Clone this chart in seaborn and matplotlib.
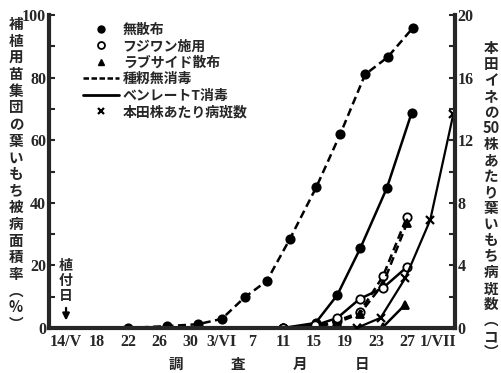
import seaborn as sns
import pandas as pd
import matplotlib.pyplot as plt
from matplotlib.lines import Line2D

# x = days counted from 14/V (planting day)
tick_days = [0, 4, 8, 12, 16, 20, 24, 28, 32, 36, 40, 44, 48]
tick_labels = ["14/V", "18", "22", "26", "30", "3/VI", "7", "11", "15",
               "19", "23", "27", "1/VII"]

# nursery seedlings, diseased area rate (%)
days_a = [8, 13, 17, 20.1, 23.1, 25.9, 28.9, 32.3, 35.4, 38.6, 41.5, 44.8]
nospray_untreated = [0, 0.6, 1.2, 2.9, 9.9, 15.0, 28.5, 45.0, 62.0, 81.0, 86.5, 96.0]

days_b = [28, 32.2, 35.0, 38.0, 41.4, 44.6]
nospray_benlate = [0, 1.6, 10.5, 25.6, 44.7, 68.7]

days_c = [28, 32.1, 35.0, 37.9, 40.9, 44.0]
fujiwan_untreated = [0, 0.3, 2.3, 5.0, 16.5, 35.5]
fujiwan_benlate = [0, 0.8, 3.2, 9.3, 12.8, 19.5]
rabcide_untreated = [0, 0.2, 1.8, 4.5, 14.0, 33.5]

days_d = [35.0, 37.9, 40.9, 43.7]
rabcide_benlate = [0, 0, 0.3, 7.3]

# field plants, lesions per 50 hills
days_e = [37.5, 40.6, 43.8, 47.0, 50.0]
lesions = [0, 0.65, 3.2, 6.9, 13.7]

sns.set_style("white")
plt.rcParams["font.family"] = ["Noto Sans CJK JP", "DejaVu Sans"]
plt.rcParams["font.weight"] = "bold"

fig = plt.figure(figsize=(5.02, 3.73), dpi=100)
ax = fig.add_axes([49 / 502, 1 - 328 / 373, 406 / 502, 313 / 373])
ax2 = ax.twinx()

dash = (0, (3.2, 1.8))
common = dict(color="black", linewidth=1.8, markersize=6,
              markeredgecolor="black", markeredgewidth=1.3)

sns.lineplot(x=days_a, y=nospray_untreated, ax=ax, marker="o", linestyle=dash, **common)
sns.lineplot(x=days_b, y=nospray_benlate, ax=ax, marker="o", **common)
sns.lineplot(x=days_c, y=fujiwan_untreated, ax=ax, marker="o", markerfacecolor="white",
             linestyle=dash, **common)
sns.lineplot(x=days_c, y=rabcide_untreated, ax=ax, marker="^", linestyle=dash, **common)
sns.lineplot(x=days_c, y=fujiwan_benlate, ax=ax, marker="o", markerfacecolor="white", **common)
sns.lineplot(x=days_d, y=rabcide_benlate, ax=ax, marker="^", **common)
sns.lineplot(x=days_e, y=lesions, ax=ax2, marker="x", color="black", linewidth=1.6,
             markersize=6, markeredgecolor="black", markeredgewidth=1.6)

ax.set_xlim(-2.2, 50.2)
ax.set_ylim(0, 100)
ax2.set_ylim(0, 20)

serif = dict(family="Liberation Serif", weight="bold", size=11.5)
ax.set_xticks(tick_days)
ax.set_xticklabels(tick_labels, fontdict=serif)
ax.set_xticks(range(0, 50, 2), minor=True)
ax.set_yticks(range(0, 101, 20))
ax.set_yticklabels([str(v) for v in range(0, 101, 20)], fontdict=serif)
ax.set_yticks(range(10, 100, 20), minor=True)
ax2.set_yticks(range(0, 21, 4))
ax2.set_yticklabels([str(v) for v in range(0, 21, 4)], fontdict=serif)
ax2.set_yticks(range(2, 20, 4), minor=True)

ax.tick_params(axis="both", which="both", direction="in", length=4, width=1.5, pad=2)
ax.tick_params(axis="x", pad=4)
ax2.tick_params(axis="y", which="both", direction="in", length=4, width=1.5, pad=2)
ax.set(xlabel=None, ylabel=None)
ax2.set(xlabel=None, ylabel=None)

for a in (ax, ax2):
    a.spines["top"].set_visible(False)
    for s in a.spines.values():
        s.set_linewidth(3)
ax2.spines["left"].set_visible(False)
ax2.spines["bottom"].set_visible(False)
ax.spines["right"].set_visible(False)

# legend
handles = [
    Line2D([], [], color="black", marker="o", linestyle="none", markersize=5),
    Line2D([], [], color="black", marker="o", markerfacecolor="white", linestyle="none",
           markersize=5, markeredgewidth=1.3),
    Line2D([], [], color="black", marker="^", linestyle="none", markersize=5),
    Line2D([], [], color="black", linestyle=(0, (2.2, 1.0)), linewidth=1.8),
    Line2D([], [], color="black", linewidth=2),
    Line2D([], [], color="black", marker="x", linestyle="none", markersize=5,
           markeredgewidth=1.6),
]
labels = ["無散布", "フジワン施用", "ラブサイド散布", "種籾無消毒", "ベンレートT消毒",
          "本田株あたり病斑数"]
ax.legend(handles, labels, loc="upper left", bbox_to_anchor=(0.084, 0.975),
          frameon=False, borderpad=0, borderaxespad=0, handlelength=2.6,
          handletextpad=0.25, labelspacing=0.18, prop=dict(size=10, weight="bold"))

# planting-day mark
ax.text(0, 15, "植\n付\n日", ha="center", va="center", fontsize=10, linespacing=1.1)
ax.annotate("", xy=(0, 1.5), xytext=(0, 7.3),
            arrowprops=dict(arrowstyle="-|>", color="black", lw=1.6))

# vertical axis titles (tategaki)
left_title = ["補", "植", "用", "苗", "集", "団", "の", "葉", "い", "も", "ち",
              "被", "病", "面", "積", "率", "︵", "%", "︶"]
right_title = ["本", "田", "イ", "ネ", "の", "50", "株", "あ", "た", "り", "葉",
               "い", "も", "ち", "病", "斑", "数", "︵", "コ", "︶"]
fig.text(16 / 502, 1 - 174 / 373, "\n".join(left_title), ha="center", va="center",
         fontsize=10.5, linespacing=1.05)
fig.text(491 / 502, 1 - 200 / 373, "\n".join(right_title), ha="center", va="center",
         fontsize=10.5, linespacing=1.0)

# x title
for ch, xp in zip(["調", "査", "月", "日"], [176, 238, 300, 362]):
    fig.text(xp / 502, 1 - 364 / 373, ch, ha="center", va="center", fontsize=10.5)

fig.savefig("out.png", dpi=100)
